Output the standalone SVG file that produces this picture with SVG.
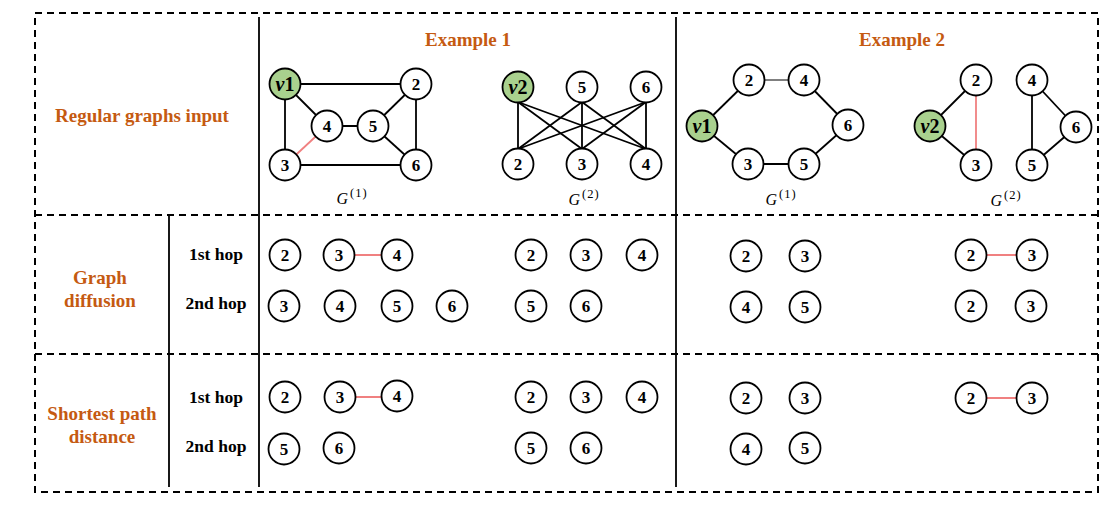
<svg xmlns="http://www.w3.org/2000/svg" width="1120" height="510" viewBox="0 0 1120 510">
<style>
.frame{fill:none;stroke:#000;stroke-width:2;stroke-dasharray:7 5}
.div{stroke:#000;stroke-width:2;stroke-dasharray:7 5}
.sol{stroke:#000;stroke-width:1.8}
.e{stroke:#000;stroke-width:1.8;fill:none}
.thin{stroke:#000;stroke-width:1;fill:none}
.pk{stroke:#f08080;stroke-width:1.8;fill:none}
.n circle{fill:#fff;stroke:#000;stroke-width:1.8}
.g circle{fill:#a9d18e;stroke:#000;stroke-width:1.8}
.n text,.g text{font-family:"Liberation Serif",serif;font-weight:bold;font-size:17px;text-anchor:middle;fill:#000}
.g text{font-size:20px}
.hd{font-family:"Liberation Serif",serif;font-weight:bold;font-size:19px;fill:#c55a11;text-anchor:middle}
.hop{font-family:"Liberation Serif",serif;font-weight:bold;font-size:17.5px;fill:#000;text-anchor:middle}
.gl{font-family:"Liberation Serif",serif;font-style:italic;font-size:16px;fill:#000;text-anchor:middle}
.sup{font-style:normal;font-size:12.5px;letter-spacing:1px}
</style>
<rect class="frame" x="35" y="13" width="1063" height="479"/>
<g id="grid">
<line class="div" x1="35" y1="215" x2="1098" y2="215"/>
<line class="div" x1="35" y1="354" x2="1098" y2="354"/>
<line class="sol" x1="259" y1="17" x2="259" y2="487"/>
<line class="sol" x1="676" y1="17" x2="676" y2="487"/>
<line class="sol" x1="169" y1="215" x2="169" y2="487"/>
</g>
<g id="labels">
<text class="hd" x="142" y="122">Regular graphs input</text>
<text class="hd" x="468" y="46">Example 1</text>
<text class="hd" x="902" y="46">Example 2</text>
<text class="hd" x="100" y="284">Graph</text>
<text class="hd" x="100" y="307">diffusion</text>
<text class="hd" x="102" y="420">Shortest path</text>
<text class="hd" x="102" y="443">distance</text>
<text class="hop" x="216" y="260">1st hop</text>
<text class="hop" x="216" y="309">2nd hop</text>
<text class="hop" x="216" y="403">1st hop</text>
<text class="hop" x="216" y="452">2nd hop</text>
<text class="gl" x="352" y="204">G<tspan class="sup" dx="2" dy="-7">(1)</tspan></text>
<text class="gl" x="584" y="205">G<tspan class="sup" dx="2" dy="-7">(2)</tspan></text>
<text class="gl" x="781" y="205">G<tspan class="sup" dx="2" dy="-7">(1)</tspan></text>
<text class="gl" x="1006" y="206">G<tspan class="sup" dx="2" dy="-7">(2)</tspan></text>
</g>
<g id="connectors">
<line class="e" x1="285" y1="84" x2="416" y2="84"/>
<line class="e" x1="285" y1="84" x2="285" y2="165"/>
<line class="e" x1="285" y1="84" x2="327" y2="126"/>
<line class="e" x1="327" y1="126" x2="373" y2="126"/>
<line class="e" x1="373" y1="126" x2="416" y2="84"/>
<line class="e" x1="373" y1="126" x2="416" y2="165"/>
<line class="e" x1="416" y1="84" x2="416" y2="165"/>
<line class="e" x1="285" y1="165" x2="416" y2="165"/>
<line class="pk" x1="285" y1="165" x2="327" y2="126"/>
<line class="e" x1="518" y1="102" x2="518" y2="149"/>
<line class="e" x1="518" y1="102" x2="582" y2="149"/>
<line class="e" x1="518" y1="102" x2="646" y2="149"/>
<line class="e" x1="582" y1="102" x2="518" y2="149"/>
<line class="e" x1="582" y1="102" x2="582" y2="149"/>
<line class="e" x1="582" y1="102" x2="646" y2="149"/>
<line class="e" x1="646" y1="102" x2="518" y2="149"/>
<line class="e" x1="646" y1="102" x2="582" y2="149"/>
<line class="e" x1="646" y1="102" x2="646" y2="149"/>
<line class="e" x1="702" y1="126" x2="749" y2="80"/>
<line class="thin" x1="749" y1="80" x2="804" y2="80"/>
<line class="e" x1="804" y1="80" x2="848" y2="125"/>
<line class="e" x1="848" y1="125" x2="804" y2="164"/>
<line class="e" x1="804" y1="164" x2="748" y2="164"/>
<line class="e" x1="748" y1="164" x2="702" y2="126"/>
<line class="e" x1="930" y1="126" x2="976" y2="80"/>
<line class="e" x1="930" y1="126" x2="976" y2="165"/>
<line class="pk" x1="976" y1="80" x2="976" y2="165"/>
<line class="e" x1="1032" y1="80" x2="1032" y2="165"/>
<line class="e" x1="1032" y1="80" x2="1076" y2="127"/>
<line class="e" x1="1076" y1="127" x2="1032" y2="165"/>
<line class="pk" x1="339" y1="255" x2="397" y2="255"/>
<line class="pk" x1="971" y1="255" x2="1032" y2="255"/>
<line class="pk" x1="340" y1="397" x2="397" y2="397"/>
<line class="pk" x1="971" y1="398" x2="1032" y2="398"/>
</g>
<g id="ex1-g1">
<g id="e1g1-v1" class="g"><circle cx="285" cy="84" r="15.5"/><text x="285" y="91"><tspan font-style="italic">v</tspan>1</text></g>
<g id="e1g1-2" class="n"><circle cx="416" cy="84" r="15.5"/><text x="416" y="90">2</text></g>
<g id="e1g1-4" class="n"><circle cx="327" cy="126" r="15.5"/><text x="327" y="132">4</text></g>
<g id="e1g1-5" class="n"><circle cx="373" cy="126" r="15.5"/><text x="373" y="132">5</text></g>
<g id="e1g1-3" class="n"><circle cx="285" cy="165" r="15.5"/><text x="285" y="171">3</text></g>
<g id="e1g1-6" class="n"><circle cx="416" cy="165" r="15.5"/><text x="416" y="171">6</text></g>
</g>
<g id="ex1-g2">
<g id="e1g2-v2" class="g"><circle cx="518" cy="87" r="15.5"/><text x="518" y="94"><tspan font-style="italic">v</tspan>2</text></g>
<g id="e1g2-5" class="n"><circle cx="582" cy="87" r="15.5"/><text x="582" y="93">5</text></g>
<g id="e1g2-6" class="n"><circle cx="646" cy="87" r="15.5"/><text x="646" y="93">6</text></g>
<g id="e1g2-2" class="n"><circle cx="518" cy="164" r="15.5"/><text x="518" y="170">2</text></g>
<g id="e1g2-3" class="n"><circle cx="582" cy="164" r="15.5"/><text x="582" y="170">3</text></g>
<g id="e1g2-4" class="n"><circle cx="646" cy="164" r="15.5"/><text x="646" y="170">4</text></g>
</g>
<g id="ex2-g1">
<g id="e2g1-v1" class="g"><circle cx="702" cy="126" r="15.5"/><text x="702" y="133"><tspan font-style="italic">v</tspan>1</text></g>
<g id="e2g1-2" class="n"><circle cx="749" cy="80" r="15.5"/><text x="749" y="86">2</text></g>
<g id="e2g1-4" class="n"><circle cx="804" cy="80" r="15.5"/><text x="804" y="86">4</text></g>
<g id="e2g1-6" class="n"><circle cx="848" cy="125" r="15.5"/><text x="848" y="131">6</text></g>
<g id="e2g1-3" class="n"><circle cx="748" cy="164" r="15.5"/><text x="748" y="170">3</text></g>
<g id="e2g1-5" class="n"><circle cx="804" cy="164" r="15.5"/><text x="804" y="170">5</text></g>
</g>
<g id="ex2-g2">
<g id="e2g2-v2" class="g"><circle cx="930" cy="126" r="15.5"/><text x="930" y="133"><tspan font-style="italic">v</tspan>2</text></g>
<g id="e2g2-2" class="n"><circle cx="976" cy="80" r="15.5"/><text x="976" y="86">2</text></g>
<g id="e2g2-3" class="n"><circle cx="976" cy="165" r="15.5"/><text x="976" y="171">3</text></g>
<g id="e2g2-4" class="n"><circle cx="1032" cy="80" r="15.5"/><text x="1032" y="86">4</text></g>
<g id="e2g2-6" class="n"><circle cx="1076" cy="127" r="15.5"/><text x="1076" y="133">6</text></g>
<g id="e2g2-5" class="n"><circle cx="1032" cy="165" r="15.5"/><text x="1032" y="171">5</text></g>
</g>
<g id="diffusion">
<g id="d-e1g1-h1-2" class="n"><circle cx="285" cy="255" r="15.5"/><text x="285" y="261">2</text></g>
<g id="d-e1g1-h1-3" class="n"><circle cx="339" cy="255" r="15.5"/><text x="339" y="261">3</text></g>
<g id="d-e1g1-h1-4" class="n"><circle cx="397" cy="255" r="15.5"/><text x="397" y="261">4</text></g>
<g id="d-e1g1-h2-3" class="n"><circle cx="284" cy="306" r="15.5"/><text x="284" y="312">3</text></g>
<g id="d-e1g1-h2-4" class="n"><circle cx="340" cy="306" r="15.5"/><text x="340" y="312">4</text></g>
<g id="d-e1g1-h2-5" class="n"><circle cx="397" cy="306" r="15.5"/><text x="397" y="312">5</text></g>
<g id="d-e1g1-h2-6" class="n"><circle cx="452" cy="306" r="15.5"/><text x="452" y="312">6</text></g>
<g id="d-e1g2-h1-2" class="n"><circle cx="531" cy="255" r="15.5"/><text x="531" y="261">2</text></g>
<g id="d-e1g2-h1-3" class="n"><circle cx="586" cy="255" r="15.5"/><text x="586" y="261">3</text></g>
<g id="d-e1g2-h1-4" class="n"><circle cx="642" cy="255" r="15.5"/><text x="642" y="261">4</text></g>
<g id="d-e1g2-h2-5" class="n"><circle cx="531" cy="306" r="15.5"/><text x="531" y="312">5</text></g>
<g id="d-e1g2-h2-6" class="n"><circle cx="586" cy="306" r="15.5"/><text x="586" y="312">6</text></g>
<g id="d-e2g1-h1-2" class="n"><circle cx="746" cy="256" r="15.5"/><text x="746" y="262">2</text></g>
<g id="d-e2g1-h1-3" class="n"><circle cx="805" cy="256" r="15.5"/><text x="805" y="262">3</text></g>
<g id="d-e2g1-h2-4" class="n"><circle cx="746" cy="307" r="15.5"/><text x="746" y="313">4</text></g>
<g id="d-e2g1-h2-5" class="n"><circle cx="805" cy="307" r="15.5"/><text x="805" y="313">5</text></g>
<g id="d-e2g2-h1-2" class="n"><circle cx="971" cy="255" r="15.5"/><text x="971" y="261">2</text></g>
<g id="d-e2g2-h1-3" class="n"><circle cx="1032" cy="255" r="15.5"/><text x="1032" y="261">3</text></g>
<g id="d-e2g2-h2-2" class="n"><circle cx="971" cy="306" r="15.5"/><text x="971" y="312">2</text></g>
<g id="d-e2g2-h2-3" class="n"><circle cx="1031" cy="306" r="15.5"/><text x="1031" y="312">3</text></g>
</g>
<g id="shortest">
<g id="s-e1g1-h1-2" class="n"><circle cx="285" cy="397" r="15.5"/><text x="285" y="403">2</text></g>
<g id="s-e1g1-h1-3" class="n"><circle cx="340" cy="397" r="15.5"/><text x="340" y="403">3</text></g>
<g id="s-e1g1-h1-4" class="n"><circle cx="397" cy="396" r="15.5"/><text x="397" y="402">4</text></g>
<g id="s-e1g1-h2-5" class="n"><circle cx="284" cy="449" r="15.5"/><text x="284" y="455">5</text></g>
<g id="s-e1g1-h2-6" class="n"><circle cx="339" cy="448" r="15.5"/><text x="339" y="454">6</text></g>
<g id="s-e1g2-h1-2" class="n"><circle cx="531" cy="397" r="15.5"/><text x="531" y="403">2</text></g>
<g id="s-e1g2-h1-3" class="n"><circle cx="586" cy="397" r="15.5"/><text x="586" y="403">3</text></g>
<g id="s-e1g2-h1-4" class="n"><circle cx="642" cy="397" r="15.5"/><text x="642" y="403">4</text></g>
<g id="s-e1g2-h2-5" class="n"><circle cx="531" cy="448" r="15.5"/><text x="531" y="454">5</text></g>
<g id="s-e1g2-h2-6" class="n"><circle cx="586" cy="448" r="15.5"/><text x="586" y="454">6</text></g>
<g id="s-e2g1-h1-2" class="n"><circle cx="746" cy="398" r="15.5"/><text x="746" y="404">2</text></g>
<g id="s-e2g1-h1-3" class="n"><circle cx="805" cy="398" r="15.5"/><text x="805" y="404">3</text></g>
<g id="s-e2g1-h2-4" class="n"><circle cx="746" cy="449" r="15.5"/><text x="746" y="455">4</text></g>
<g id="s-e2g1-h2-5" class="n"><circle cx="805" cy="448" r="15.5"/><text x="805" y="454">5</text></g>
<g id="s-e2g2-h1-2" class="n"><circle cx="971" cy="398" r="15.5"/><text x="971" y="404">2</text></g>
<g id="s-e2g2-h1-3" class="n"><circle cx="1032" cy="398" r="15.5"/><text x="1032" y="404">3</text></g>
</g>
</svg>
